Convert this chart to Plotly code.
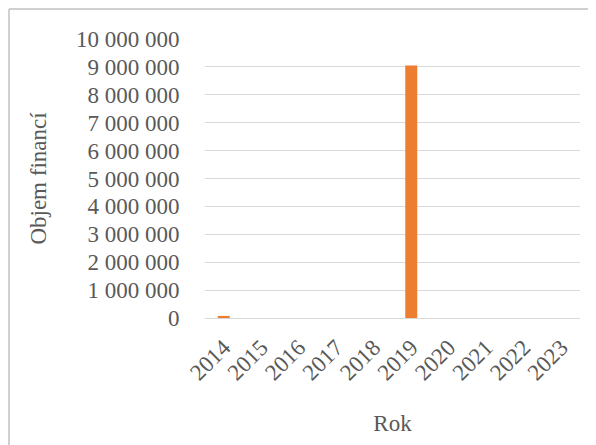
import plotly.graph_objects as go

years = ["2014", "2015", "2016", "2017", "2018", "2019", "2020", "2021", "2022", "2023"]
volume = [75000, 0, 0, 0, 0, 9050000, 0, 0, 0, 0]
y_ticks = [0, 1000000, 2000000, 3000000, 4000000, 5000000, 6000000, 7000000, 8000000, 9000000, 10000000]

font_family = "'Times New Roman', 'Liberation Serif', 'DejaVu Serif', serif"
txt = "#595959"
fs = 23

fig = go.Figure()
fig.add_trace(go.Bar(x=years, y=volume, marker=dict(color="#ED7D31", line=dict(width=0)), showlegend=False))

# page body has an 8px margin, so the margins are shifted by 8px
fig.update_layout(
    width=596,
    height=445,
    margin=dict(l=197, r=24, t=31, b=135),
    paper_bgcolor="white",
    plot_bgcolor="white",
    separators=", ",
    bargap=0.68,
    font=dict(family=font_family, size=fs, color=txt),
    xaxis=dict(
        type="category",
        tickangle=-45,
        ticks="outside",
        ticklen=6,
        tickcolor="rgba(0,0,0,0)",
        showgrid=False,
        showline=False,
        tickfont=dict(family=font_family, size=fs, color=txt),
        title=dict(text="Rok", font=dict(family=font_family, size=fs, color=txt), standoff=30),
        automargin=False,
    ),
    yaxis=dict(
        range=[0, 10000000],
        tickvals=y_ticks,
        tickformat=",d",
        ticks="outside",
        ticklen=20,
        tickcolor="rgba(0,0,0,0)",
        showgrid=True,
        gridcolor="#D9D9D9",
        gridwidth=1,
        zeroline=True,
        zerolinecolor="#D9D9D9",
        zerolinewidth=1,
        showline=False,
        tickfont=dict(family=font_family, size=fs, color=txt),
        title=dict(text="Objem financí", font=dict(family=font_family, size=fs, color=txt), standoff=22),
        automargin=False,
    ),
)

# chart border (top and left edges visible)
left = -196 / 375
top = 1 + 30 / 279
fig.add_shape(type="line", xref="paper", yref="paper",
              x0=left, x1=1.2, y0=top, y1=top,
              line=dict(color="#D0D0D0", width=2))
fig.add_shape(type="line", xref="paper", yref="paper",
              x0=left, x1=left, y0=top, y1=-1,
              line=dict(color="#D0D0D0", width=2))

fig.write_html("out.html")
